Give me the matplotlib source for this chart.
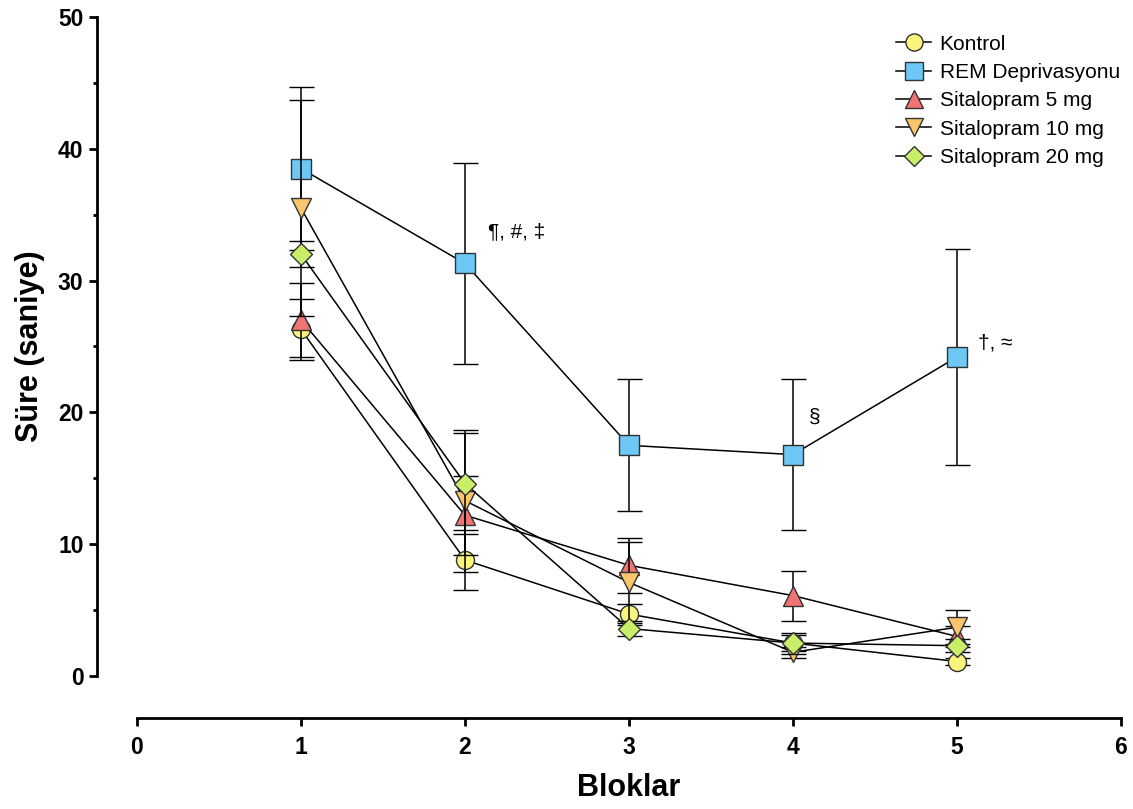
import matplotlib
matplotlib.use("Agg")
import matplotlib.pyplot as plt
from matplotlib.lines import Line2D
from matplotlib.ticker import MultipleLocator

plt.rcParams['font.family'] = ['Liberation Sans', 'DejaVu Sans']

bloklar = [1, 2, 3, 4, 5]

kontrol = [26.3, 8.8, 4.7, 2.5, 1.1]
kontrol_err = [2.3, 2.3, 0.8, 0.6, 0.3]
rem = [38.5, 31.3, 17.5, 16.8, 24.2]
rem_err = [6.2, 7.6, 5.0, 5.7, 8.2]
s5 = [27.0, 12.2, 8.4, 6.1, 3.0]
s5_err = [2.8, 3.0, 2.1, 1.9, 0.8]
s10 = [35.5, 13.3, 7.1, 1.8, 3.7]
s10_err = [8.2, 5.4, 3.1, 0.4, 1.3]
s20 = [32.0, 14.6, 3.6, 2.5, 2.3]
s20_err = [1.0, 3.8, 0.6, 0.8, 0.5]

names = ['Kontrol', 'REM Deprivasyonu', 'Sitalopram 5 mg', 'Sitalopram 10 mg', 'Sitalopram 20 mg']
colors = ['#F8F47C', '#6DC8F5', '#F07474', '#F8C46C', '#C8EE6A']
markers = ['o', 's', '^', 'v', 'D']
sizes = [13, 14, 14, 14, 11]


def main():
    fig = plt.figure(figsize=(11.33, 8.09), dpi=100)
    ax = fig.add_axes([0.1209, 0.1644, 0.8685, 0.8146])

    series = [(kontrol, kontrol_err), (rem, rem_err), (s5, s5_err), (s10, s10_err), (s20, s20_err)]
    handles = []
    for i, (vals, errs) in enumerate(series):
        ax.errorbar(bloklar, vals, yerr=errs, color='black', lw=1.1,
                    elinewidth=1.1, capsize=9, capthick=1.1,
                    marker=markers[i], markersize=sizes[i],
                    markerfacecolor=colors[i], markeredgecolor='#333333',
                    markeredgewidth=1.0, zorder=3 + i)
        handles.append(Line2D([], [], color='black', lw=1.1, marker=markers[i],
                              markersize=sizes[i] * 0.95, markerfacecolor=colors[i],
                              markeredgecolor='#333333', markeredgewidth=1.0,
                              label=names[i]))

    # annotations
    ax.text(2.14, 33.7, '¶, #, ‡', fontsize=15, ha='left', va='center')
    ax.text(4.1, 19.6, '§', fontsize=15, ha='left', va='center')
    ax.text(5.13, 25.3, '†, ≈', fontsize=15, ha='left', va='center')

    ax.set_xlim(0, 6)
    ax.set_ylim(0, 50)
    ax.set_xticks([0, 1, 2, 3, 4, 5, 6])
    ax.set_yticks([0, 10, 20, 30, 40, 50])
    ax.yaxis.set_minor_locator(MultipleLocator(5))

    for s in ['top', 'right']:
        ax.spines[s].set_visible(False)
    ax.spines['left'].set_position(('outward', 29))
    ax.spines['bottom'].set_position(('outward', 30))
    ax.spines['left'].set_linewidth(2)
    ax.spines['bottom'].set_linewidth(2)
    ax.tick_params(axis='both', which='major', width=2, length=6, labelsize=16.5, direction='out')
    ax.tick_params(axis='x', pad=7)
    ax.tick_params(axis='y', which='minor', width=2, length=3, direction='out')
    for lab in ax.get_xticklabels() + ax.get_yticklabels():
        lab.set_fontweight('bold')

    ax.set_xlabel('Bloklar', fontsize=22, fontweight='bold', labelpad=10)
    ax.set_ylabel('Süre (saniye)', fontsize=22, fontweight='bold', labelpad=9)

    ax.legend(handles=handles, loc='upper right', bbox_to_anchor=(1.02, 1.005), frameon=False,
              fontsize=15, handlelength=1.7, handletextpad=0.4,
              labelspacing=0.45, borderaxespad=0.6)

    fig.savefig('out.png', dpi=100)


if __name__ == "__main__":
    main()
